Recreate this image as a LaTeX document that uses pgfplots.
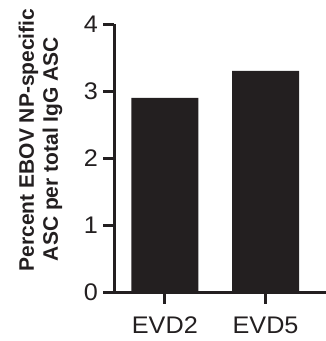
\documentclass[border=0pt]{standalone}
\usepackage{pgfplots}
\pgfplotsset{compat=1.18}
\usepackage{fontspec}
\setmainfont{Liberation Sans}
\newfontfamily\tickfont[FakeStretch=1.05]{Liberation Sans}
\definecolor{barblack}{HTML}{231F20}
\begin{document}
\begin{tikzpicture}[x=1pt,y=1pt]
\useasboundingbox (0,0) rectangle (326,341);
\begin{axis}[
  at={(114.5pt,48.5pt)}, anchor=south west,
  scale only axis,
  width=211.5pt, height=268.5pt,
  xmin=-0.5, xmax=1.6, ymin=0, ymax=4,
  axis x line=bottom, axis y line=left,
  axis line style={line width=2.8pt, color=barblack, -},
  xtick={0,1}, xticklabels={EVD2,EVD5},
  ytick={0,1,2,3,4},
  tick align=outside,
  major tick length=11pt,
  tick style={line width=3pt, color=barblack},
  /pgf/number format/assume math mode=true,
  tick label style={font=\tickfont\fontsize{24}{28}\selectfont, color=barblack},
  xticklabel style={yshift=-12pt, inner sep=1pt},
  yticklabel style={xshift=-2pt},
  ylabel={Percent EBOV NP-specific\\ASC per total IgG ASC\makebox[18pt]{}},
  ylabel style={font=\bfseries\fontsize{21}{24}\selectfont, align=center, color=barblack,
    at={(axis description cs:-0.35,0.568)}, anchor=center},
  clip=false,
]
\addplot[ybar, bar width=67pt, fill=barblack, draw=none] coordinates {(0,2.9) (1,3.3)};
\end{axis}
\end{tikzpicture}
\end{document}
